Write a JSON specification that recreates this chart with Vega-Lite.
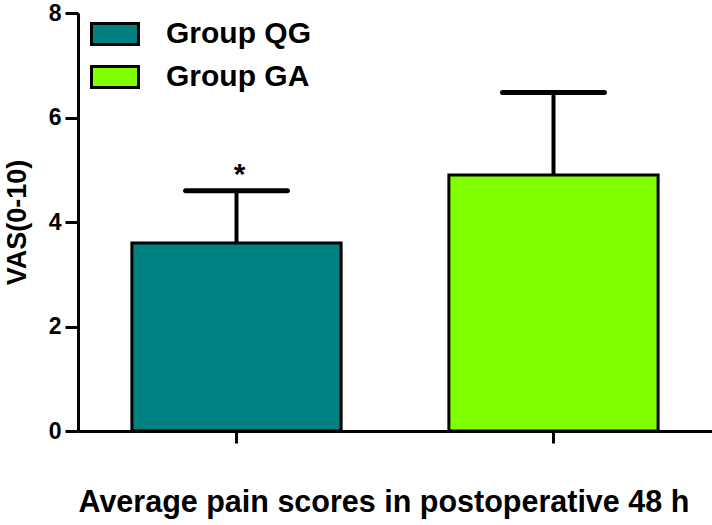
{
  "$schema": "https://vega.github.io/schema/vega-lite/v6.json",
  "width": 634,
  "height": 418,
  "autosize": {"type": "none"},
  "padding": {"left": 78, "top": 13, "right": 0, "bottom": 94},
  "background": "white",
  "config": {
    "view": {"stroke": null},
    "font": "Liberation Sans"
  },
  "data": {
    "values": [
      {"group": "Group QG", "mean": 3.6, "hi": 4.6, "sig": "*"},
      {"group": "Group GA", "mean": 4.9, "hi": 6.48, "sig": ""}
    ]
  },
  "encoding": {
    "x": {
      "field": "group",
      "type": "nominal",
      "sort": ["Group QG", "Group GA"],
      "scale": {"paddingInner": 0.34, "paddingOuter": 0.17},
      "axis": {
        "title": "Average  pain scores in postoperative 48 h",
        "labels": false,
        "ticks": true,
        "tickSize": 12,
        "tickWidth": 3,
        "tickColor": "black",
        "domainColor": "black",
        "domainWidth": 3,
        "titleFont": "Liberation Sans",
        "titleFontSize": 30.5,
        "titleFontWeight": "bold",
        "titleColor": "black",
        "titleAnchor": "start",
        "titleAlign": "left",
        "titleX": 0,
        "titlePadding": 43
      }
    }
  },
  "layer": [
    {
      "mark": {"type": "bar", "stroke": "black", "strokeWidth": 3},
      "encoding": {
        "y": {
          "field": "mean",
          "type": "quantitative",
          "scale": {"domain": [0, 8], "nice": false},
          "axis": {
            "title": "VAS(0-10)",
            "values": [0, 2, 4, 6, 8],
            "grid": false,
            "domainColor": "black",
            "domainWidth": 3,
            "tickColor": "black",
            "tickWidth": 3,
            "tickSize": 13,
            "labelFont": "Liberation Sans",
            "labelFontSize": 23,
            "labelFontWeight": "bold",
            "labelColor": "black",
            "labelPadding": 4,
            "titleFont": "Liberation Sans",
            "titleFontSize": 27,
            "titleFontWeight": "bold",
            "titleColor": "black",
            "titlePadding": 17
          }
        },
        "color": {
          "field": "group",
          "type": "nominal",
          "scale": {"domain": ["Group QG", "Group GA"], "range": ["#008080", "#80FF00"]},
          "legend": {
            "title": null,
            "orient": "none",
            "legendX": 12,
            "legendY": -4,
            "padding": 0,
            "rowPadding": 1,
            "symbolType": "M-1,-0.45H1V0.45H-1Z",
            "symbolSize": 2209,
            "symbolStrokeColor": "black",
            "symbolStrokeWidth": 3,
            "symbolOpacity": 1,
            "labelFont": "Liberation Sans",
            "labelFontSize": 30,
            "labelFontWeight": "bold",
            "labelColor": "black",
            "labelOffset": 26,
            "labelLimit": 400
          }
        }
      }
    },
    {
      "mark": {"type": "rule", "color": "black", "strokeWidth": 4},
      "encoding": {
        "y": {"field": "mean", "type": "quantitative"},
        "y2": {"field": "hi"}
      }
    },
    {
      "mark": {"type": "tick", "color": "black", "size": 107, "thickness": 5, "opacity": 1, "cornerRadius": 2.5},
      "encoding": {
        "y": {"field": "hi", "type": "quantitative"}
      }
    },
    {
      "mark": {"type": "text", "color": "black", "fontSize": 30, "fontWeight": "bold", "font": "Liberation Sans", "baseline": "alphabetic", "dy": -7, "dx": 3},
      "encoding": {
        "y": {"field": "hi", "type": "quantitative"},
        "text": {"field": "sig"}
      }
    }
  ]
}
